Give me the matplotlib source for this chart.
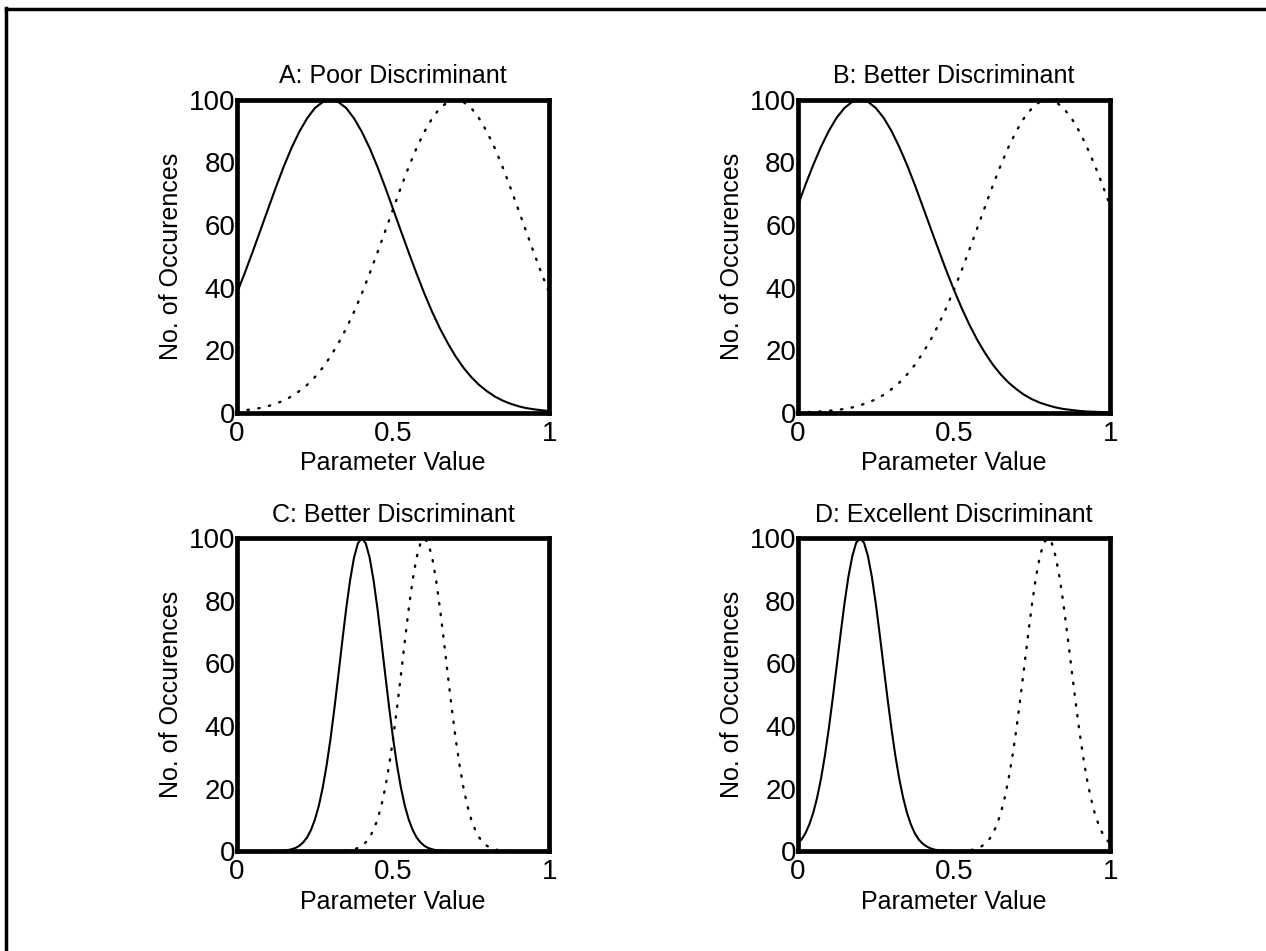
import numpy as np
import matplotlib.pyplot as plt
from matplotlib.lines import Line2D

plt.rcParams['font.family'] = ['Liberation Sans', 'DejaVu Sans']

# sample grids: coarse for the wide curves (A, B), fine for the narrow ones (C, D)
x = np.linspace(0, 1, 41)
xf = np.linspace(0, 1, 81)

titles = ["A: Poor Discriminant", "B: Better Discriminant",
          "C: Better Discriminant", "D: Excellent Discriminant"]

a_solid = [38.1, 44.5, 51.2, 58.1, 65.1, 72.0, 78.6, 84.6, 89.8, 94.1, 97.4, 99.3, 100,
           99.3, 97.4, 94.1, 89.8, 84.6, 78.6, 72.0, 65.1, 58.1, 51.2, 44.5, 38.1,
           32.2, 26.9, 22.2, 18.0, 14.4, 11.4, 8.9, 6.9, 5.2, 3.9, 2.9, 2.1, 1.5, 1.1, 0.8, 0.5]
a_dotted = [0.5, 0.8, 1.1, 1.5, 2.1, 2.9, 3.9, 5.2, 6.9, 8.9, 11.4, 14.4, 18.0, 22.2, 26.9,
            32.2, 38.1, 44.5, 51.2, 58.1, 65.1, 72.0, 78.6, 84.6, 89.8, 94.1, 97.4, 99.3,
            100, 99.3, 97.4, 94.1, 89.8, 84.6, 78.6, 72.0, 65.1, 58.1, 51.2, 44.5, 38.1]

b_solid = [66.0, 72.8, 79.2, 85.0, 90.1, 94.3, 97.4, 99.4, 100, 99.4, 97.4, 94.3, 90.1,
           85.0, 79.2, 72.8, 66.0, 59.1, 52.3, 45.6, 39.3, 33.4, 28.0, 23.2, 19.0, 15.3,
           12.2, 9.6, 7.5, 5.7, 4.3, 3.2, 2.4, 1.7, 1.2, 0.9, 0.6, 0.4, 0.3, 0.2, 0.1]
b_dotted = [0.1, 0.2, 0.3, 0.4, 0.6, 0.9, 1.2, 1.7, 2.4, 3.2, 4.3, 5.7, 7.5, 9.6, 12.2,
            15.3, 19.0, 23.2, 28.0, 33.4, 39.3, 45.6, 52.3, 59.1, 66.0, 72.8, 79.2, 85.0,
            90.1, 94.3, 97.4, 99.4, 100, 99.4, 97.4, 94.3, 90.1, 85.0, 79.2, 72.8, 66.0]

c_solid = [0] * 11 + [
    0.1, 0.2, 0.3, 0.6, 1.0, 1.7, 2.8, 4.4, 6.8, 10.1, 14.5, 20.3, 27.5, 36.0, 45.8,
    56.3, 67.1, 77.5, 86.6, 93.8, 98.4, 100, 98.4, 93.8, 86.6, 77.5, 67.1, 56.3, 45.8,
    36.0, 27.5, 20.3, 14.5, 10.1, 6.8, 4.4, 2.8, 1.7, 1.0, 0.6, 0.3, 0.2, 0.1] + [0] * 27
c_dotted = [0] * 27 + [
    0.1, 0.2, 0.3, 0.6, 1.0, 1.7, 2.8, 4.4, 6.8, 10.1, 14.5, 20.3, 27.5, 36.0, 45.8,
    56.3, 67.1, 77.5, 86.6, 93.8, 98.4, 100, 98.4, 93.8, 86.6, 77.5, 67.1, 56.3, 45.8,
    36.0, 27.5, 20.3, 14.5, 10.1, 6.8, 4.4, 2.8, 1.7, 1.0, 0.6, 0.3, 0.2, 0.1] + [0] * 11

d_solid = [2.4, 3.7, 5.7, 8.5, 12.2, 17.1, 23.2, 30.6, 39.3, 48.9, 59.1, 69.4, 79.2, 87.7,
           94.3, 98.6, 100, 98.6, 94.3, 87.7, 79.2, 69.4, 59.1, 48.9, 39.3, 30.6, 23.2,
           17.1, 12.2, 8.5, 5.7, 3.7, 2.4, 1.5, 0.9, 0.5, 0.3, 0.2, 0.1] + [0] * 42
d_dotted = [0] * 42 + [
    0.1, 0.2, 0.3, 0.5, 0.9, 1.5, 2.4, 3.7, 5.7, 8.5, 12.2, 17.1, 23.2, 30.6, 39.3, 48.9,
    59.1, 69.4, 79.2, 87.7, 94.3, 98.6, 100, 98.6, 94.3, 87.7, 79.2, 69.4, 59.1, 48.9,
    39.3, 30.6, 23.2, 17.1, 12.2, 8.5, 5.7, 3.7, 2.4]

grids = [x, x, xf, xf]
solids = [a_solid, b_solid, c_solid, d_solid]
dotteds = [a_dotted, b_dotted, c_dotted, d_dotted]

fig = plt.figure(figsize=(12.66, 9.51), dpi=100)

# axes boxes in figure fractions: left, bottom, width, height
boxes = [(0.187, 0.566, 0.247, 0.329), (0.630, 0.566, 0.247, 0.329),
         (0.187, 0.105, 0.247, 0.329), (0.630, 0.105, 0.247, 0.329)]

for box, t, xs, ys, yd in zip(boxes, titles, grids, solids, dotteds):
    ax = fig.add_axes(box)
    ax.plot(xs, ys, color='black', lw=1.5)
    ax.plot(xs, yd, color='black', lw=1.7, linestyle=(0, (0.6, 4.0)),
            dash_capstyle='round')
    ax.set_xlim(0, 1)
    ax.set_ylim(0, 100)
    ax.set_xticks([0, 0.5, 1])
    ax.set_xticklabels(['0', '0.5', '1'])
    ax.set_yticks([0, 20, 40, 60, 80, 100])
    ax.tick_params(length=0, labelsize=20, pad=6)
    ax.tick_params(axis='y', pad=1)
    for s in ax.spines.values():
        s.set_linewidth(3.4)
    ax.set_title(t, fontsize=18, pad=12)
    ax.set_xlabel("Parameter Value", fontsize=18, labelpad=3)
    ax.set_ylabel("No. of Occurences", fontsize=18, labelpad=4)

# scanned frame: left and top edges only
fig.add_artist(Line2D([6 / 1266, 6 / 1266], [0, 1 - 8 / 951], color='black', lw=2.5))
fig.add_artist(Line2D([6 / 1266, 1], [1 - 8.5 / 951, 1 - 8.5 / 951], color='black', lw=2.5))

fig.savefig("out.png", dpi=100)
